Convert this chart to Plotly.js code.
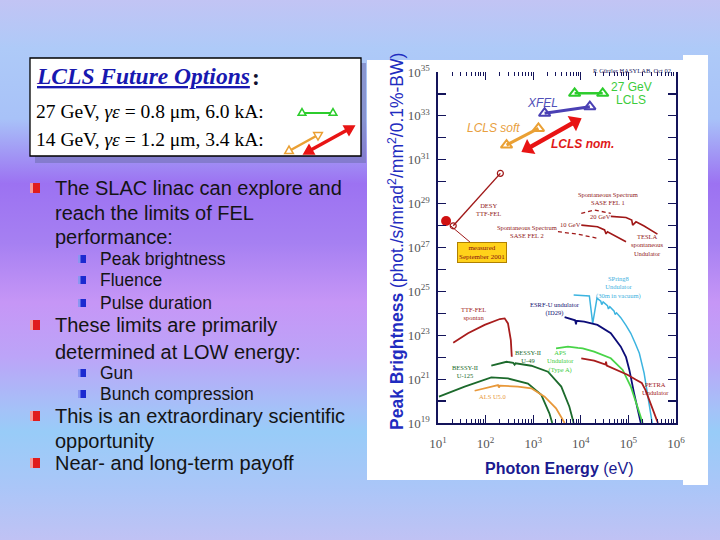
<!DOCTYPE html>
<html><head><meta charset="utf-8">
<script src="https://cdn.plot.ly/plotly-3.0.1.min.js"></script>
<style>
html,body{margin:0;padding:0;}
body{width:720px;height:540px;overflow:hidden;
background:linear-gradient(to bottom,#c2c4f4 0%,#aecaf8 9%,#a8c2f8 22%,#9c72f2 34%,#a680f2 45%,#c696f6 56%,#bca4f8 66%,#a4c2f8 76%,#98ccf8 80%,#aac6f8 90%,#c0c2f4 100%);}
#chart{width:720px;height:540px;}
</style></head><body><div id="chart"></div>
<script>
// ===== Data: log10(photon energy / eV) and log10(peak brightness) =====
const lcls27_logE = [3.87, 4.46];   const lcls27_logB = [34.03, 34.03];
const xfel_logE   = [3.24, 4.19];   const xfel_logB   = [33.12, 33.42];
const lclsSoft_logE = [2.44, 3.11]; const lclsSoft_logB = [31.67, 32.43];
const lclsNom_logE  = [2.89, 3.88]; const lclsNom_logB  = [31.52, 32.73];

const ttfFel_logE = [1.32, 2.31];   const ttfFel_logB = [27.99, 30.38];
const measured_logE = [1.17];       const measured_logB = [28.21];

const sase1Dash_logE = [4.01, 4.28, 4.63];             const sase1Dash_logB = [28.56, 28.71, 28.56];
const sase1_20GeV_logE = [4.63, 4.95, 5.07, 5.09, 5.16, 5.33, 5.61];
const sase1_20GeV_logB = [28.42, 28.37, 28.25, 28.02, 28.17, 27.98, 27.61];
const sase2Dash_logE = [3.52, 3.94, 4.35];             const sase2Dash_logB = [27.72, 27.61, 27.42];
const sase2_10GeV_logE = [4.01, 4.35, 4.50, 4.53, 4.56, 4.77, 4.95];
const sase2_10GeV_logB = [28.02, 27.95, 27.80, 27.62, 27.72, 27.49, 27.26];

const spring8_logE = [3.85, 4.18, 4.25, 4.34, 4.42, 4.44, 4.47, 4.56, 4.58, 4.61, 4.70, 4.72, 4.75, 4.84, 4.95, 5.05, 5.15, 5.23, 5.33, 5.44, 5.50];
const spring8_logB = [24.83, 24.79, 23.54, 24.69, 24.55, 24.40, 24.52, 24.35, 24.20, 24.30, 24.10, 23.95, 24.02, 23.80, 23.45, 23.09, 22.60, 22.18, 21.27, 19.90, 19.00];
const esrf_logE = [3.66, 3.80, 3.88, 3.90, 3.91, 4.07, 4.35, 4.63, 4.84, 4.95, 5.02, 5.12, 5.23, 5.26];
const esrf_logB = [23.83, 23.75, 23.68, 23.50, 23.66, 23.62, 23.47, 23.09, 22.48, 22.00, 21.42, 20.35, 19.29, 19.00];
const aps_logE = [3.48, 3.73, 3.94, 4.04, 4.28, 4.63, 4.88, 5.05, 5.19, 5.30];
const aps_logB = [22.40, 22.48, 22.42, 22.40, 22.25, 21.95, 21.42, 20.66, 19.74, 19.00];
const petra_logE = [4.01, 4.28, 4.52, 4.53, 4.545, 4.77, 4.98, 5.15, 5.28, 5.36, 5.45, 5.55, 5.62];
const petra_logB = [21.95, 21.84, 21.66, 21.80, 21.62, 21.42, 21.20, 20.98, 20.83, 20.50, 20.00, 19.45, 19.00];
const ttfSpontan_logE = [1.32, 1.63, 1.98, 2.30, 2.40, 2.47, 2.53, 2.55];
const ttfSpontan_logB = [22.66, 23.09, 23.47, 23.74, 23.77, 23.54, 22.78, 22.02];
const bessy49_logE = [2.12, 2.30, 2.44, 2.58, 2.61, 2.63, 2.96, 3.31, 3.59, 3.76, 3.85];
const bessy49_logB = [21.62, 21.72, 21.79, 21.74, 21.66, 21.72, 21.61, 21.34, 20.66, 19.74, 19.00];
const bessy125_logE = [1.02, 1.56, 2.12, 2.47, 2.89, 3.17, 3.34, 3.40];
const bessy125_logB = [20.20, 20.66, 21.08, 21.03, 20.80, 20.28, 19.44, 19.00];
const als_logE = [1.77, 2.26, 2.28, 2.30, 2.68, 2.96, 3.24, 3.48, 3.66];
const als_logB = [20.47, 20.73, 20.62, 20.70, 20.66, 20.58, 20.20, 19.67, 19.00];

const xTickExp = [1, 2, 3, 4, 5, 6];
const yTickExp = [19, 20, 21, 22, 23, 24, 25, 26, 27, 28, 29, 30, 31, 32, 33, 34, 35];

const slideMain = ['The SLAC linac can explore and', 'reach the limits of FEL', 'performance:',
  'These limits are primarily', 'determined at LOW energy:',
  'This is an extraordinary scientific', 'opportunity', 'Near- and long-term payoff'];
const slideSub = ['Peak brightness', 'Fluence', 'Pulse duration', 'Gun', 'Bunch compression'];

// ===== Helpers =====
const W = 720, H = 540;
const px = x => x / W, py = y => 1 - y / H;
const pow = a => a.map(v => Math.pow(10, v));
function line(le, lb, color, width, extra) {
  return Object.assign({type: 'scatter', mode: 'lines', x: pow(le), y: pow(lb),
    line: {color: color, width: width}, hoverinfo: 'skip', showlegend: false}, extra || {});
}
const SANS = 'Liberation Sans, Arial, sans-serif';
const SERIF = 'Liberation Serif, Times New Roman, serif';

// ===== Traces =====
const traces = [
  line(spring8_logE, spring8_logB, '#3cb4e0', 1.5),
  line(esrf_logE, esrf_logB, '#0c0c78', 1.8),
  line(aps_logE, aps_logB, '#48d448', 1.8),
  line(petra_logE, petra_logB, '#a81c1c', 1.8),
  line(ttfSpontan_logE, ttfSpontan_logB, '#a81c1c', 1.8),
  line(bessy49_logE, bessy49_logB, '#1c6a2c', 1.8),
  line(bessy125_logE, bessy125_logB, '#1c6a2c', 1.8),
  line(als_logE, als_logB, '#e8983a', 1.8),
  line(sase1Dash_logE, sase1Dash_logB, '#a01818', 1.3, {line: {color: '#a01818', width: 1.3, dash: '4px,3px'}}),
  line(sase1_20GeV_logE, sase1_20GeV_logB, '#a01818', 1.6),
  line(sase2Dash_logE, sase2Dash_logB, '#a01818', 1.3, {line: {color: '#a01818', width: 1.3, dash: '4px,3px'}}),
  line(sase2_10GeV_logE, sase2_10GeV_logB, '#a01818', 1.6),
  line(ttfFel_logE, ttfFel_logB, '#a01818', 1.4, {mode: 'lines+markers',
    marker: {symbol: 'circle-open', size: 6, color: '#a01818', line: {width: 1.2}}}),
  line(measured_logE, measured_logB, '#d01010', 1, {mode: 'markers',
    marker: {symbol: 'circle', size: 10, color: '#d01010'}}),
  line(xfel_logE, xfel_logB, '#4a40b4', 3, {mode: 'lines+markers',
    marker: {symbol: 'triangle-up-open', size: 10, color: '#4a40b4', line: {width: 2}}}),
  line(lclsSoft_logE, lclsSoft_logB, '#eaa034', 3, {mode: 'lines+markers',
    marker: {symbol: 'triangle-up-open', size: 10, color: '#eaa034', line: {width: 2}}}),
  line(lclsNom_logE, lclsNom_logB, '#e81414', 4.5, {mode: 'lines+markers',
    marker: {symbol: 'triangle-up', size: 15, color: '#e81414', angle: [-119, 61]}}),
  line(lcls27_logE, lcls27_logB, '#2ccc2c', 2.5, {mode: 'lines+markers', xaxis: 'x2',
    marker: {symbol: 'triangle-up-open', size: 10, color: '#2ccc2c', line: {width: 2}}})
];

// ===== Layout pieces =====
const minorX = [];
for (let d = 1; d < 6; d++) for (let k = 2; k <= 9; k++) minorX.push(k * Math.pow(10, d));
const tickFont = {family: SERIF, size: 13, color: '#555'};
const AX = '#14145a';

const shapes = [];
function rect(x0, y0, x1, y1, fill, ln, layer) {
  shapes.push({type: 'rect', xref: 'paper', yref: 'paper', x0: px(x0), x1: px(x1), y0: py(y1), y1: py(y0),
    fillcolor: fill, line: ln || {width: 0}, layer: layer || 'above'});
}
function seg(x0, y0, x1, y1, color, width) {
  shapes.push({type: 'line', xref: 'paper', yref: 'paper', x0: px(x0), y0: py(y0), x1: px(x1), y1: py(y1),
    line: {color: color, width: width}});
}
function tri(cx, cy, s, ang, fill, color) {
  const a = ang * Math.PI / 180;
  const pts = [0, 120, 240].map(d => { const t = a + d * Math.PI / 180;
    return [cx + s * Math.sin(t), cy - s * Math.cos(t)]; });
  shapes.push({type: 'path', xref: 'paper', yref: 'paper',
    path: 'M' + pts.map(p => px(p[0]) + ',' + py(p[1])).join(' L') + ' Z',
    fillcolor: fill, line: {color: color, width: 1.5}});
}
// white panels and legend box
rect(367, 60, 683, 480, '#ffffff', null, 'below');
rect(683, 55, 708, 485, '#ffffff', null, 'below');
rect(35, 63, 366, 163, 'rgba(110,110,175,0.55)', null, 'below');
rect(30, 58, 361, 156, '#ffffff', {color: '#000', width: 1.3}, 'below');
// legend icons
seg(302, 113, 333, 113, '#2ccc2c', 2);
tri(302, 113, 4.5, 0, '#ffffff', '#2ccc2c'); tri(333, 113, 4.5, 0, '#ffffff', '#2ccc2c');
seg(289, 151, 318, 135, '#eaa034', 2.5);
tri(289, 151, 5, -120, '#ffffff', '#eaa034'); tri(318, 135, 5, 60, '#ffffff', '#eaa034');
seg(309, 151, 349, 129, '#e81414', 3.5);
tri(309, 151, 6, -120, '#e81414', '#e81414'); tri(349, 129, 6, 60, '#e81414', '#e81414');

// bullets
const mainY = [188, 213, 237, 325, 352, 416, 441, 463];
const mainBullet = [true, false, false, true, false, true, false, true];
const subY = [259, 280, 303, 373, 394];
mainY.forEach((y, i) => { if (mainBullet[i]) {
  rect(30, y - 5, 40, y + 5, '#e01c1c'); rect(30, y - 5, 33, y + 5, '#f49a9a'); } });
subY.forEach(y => { rect(78, y - 4, 86, y + 4, '#1c2ad0'); rect(78, y - 4, 80.5, y + 4, '#8a96f2'); });

const ann = [];
function A(text, x, y, size, color, family, extra) {
  ann.push(Object.assign({text: text, xref: 'paper', yref: 'paper', x: px(x), y: py(y),
    xanchor: 'center', yanchor: 'middle', showarrow: false,
    font: {family: family || SERIF, size: size, color: color}}, extra || {}));
}
// slide text
slideMain.forEach((t, i) => A(t, 53, mainY[i], 20, '#141414', SANS, {xanchor: 'left'}));
slideSub.forEach((t, i) => A(t, 98, subY[i], 17.5, '#141414', SANS, {xanchor: 'left'}));
// legend box text
A('<b><i>LCLS Future Options</i></b>', 34, 76, 23.5, '#1818b0', SERIF,
  {xanchor: 'left', font: {family: SERIF, size: 23.5, color: '#1818b0', lineposition: 'under'}});
A('<b>:</b>', 250, 77, 23.5, '#101030', SERIF, {xanchor: 'left'});
A('27 GeV, <i>γε</i> = 0.8 μm, 6.0 kA:', 34, 112, 19.5, '#000', SERIF, {xanchor: 'left'});
A('14 GeV, <i>γε</i> = 1.2 μm, 3.4 kA:', 34, 139, 19.5, '#000', SERIF, {xanchor: 'left'});
// axis titles
A('<b>Peak Brightness</b> (phot./s/mrad<sup>2</sup>/mm<sup>2</sup>/0.1%-BW)', 396, 242, 17.5, '#1f2cc0', SANS, {textangle: -90});
A('<b>Photon Energy</b> (eV)', 559, 468, 16, '#1a1a90', SANS);
// chart labels
A('P. Gürtler HASYLAB, Oct 02', 632, 70, 6.5, '#202060');
A('27 GeV', 631, 86.5, 12, '#3ccc3c', SANS);
A('LCLS', 631, 100, 12, '#3ccc3c', SANS);
A('<i>XFEL</i>', 542, 103, 12, '#5050b8', SANS);
A('<i>LCLS soft</i>', 493, 128.5, 12, '#e8a040', SANS);
A('<b><i>LCLS nom.</i></b>', 582, 143.5, 12, '#e01818', SANS);
A('DESY<br>TTF-FEL', 488, 209, 6.5, '#902020');
A('Spontaneous Spectrum<br>SASE FEL 1', 608, 198, 6.5, '#902020');
A('Spontaneous Spectrum<br>SASE FEL 2', 527, 231, 6.5, '#902020');
A('20 GeV', 600, 216.5, 6.5, '#902020');
A('10 GeV', 570, 224.5, 6.5, '#902020');
A('TESLA<br>spontaneous<br>Undulator', 647, 245, 6.5, '#902020');
A('SPring8<br>Undulator<br>(30m in vacuum)', 618, 287, 6.5, '#40b0e0');
A('ESRF-U undulator<br>(ID29)', 555, 309, 6.5, '#101070');
A('TTF-FEL<br>spontan', 473, 313, 6.5, '#a02020');
A('BESSY-II<br>U-49', 528, 356, 6.5, '#1a6a2a');
A('BESSY-II<br>U-125', 465, 371.5, 6.5, '#1a6a2a');
A('APS<br>Undulator<br>(Type A)', 560, 361, 6.5, '#40cc40');
A('PETRA<br>Undulator', 655, 388, 6.5, '#a02020');
A('ALS U5.0', 492, 396, 6.5, '#e89838');
// measured box with pointer to the measured point
ann.push({text: 'measured<br>September 2001', xref: 'x', yref: 'y', x: 1.27, y: 27.98,
  ax: 31, ay: 26, showarrow: true, arrowhead: 0, arrowwidth: 1, arrowcolor: '#a01818',
  bgcolor: '#ffd21a', bordercolor: '#b08000', borderwidth: 1, borderpad: 1,
  font: {family: SERIF, size: 7, color: '#8a1010'}});

const layout = {
  width: W, height: H, autosize: false, margin: {l: 0, r: 0, t: 0, b: 0},
  paper_bgcolor: 'rgba(0,0,0,0)', plot_bgcolor: 'rgba(0,0,0,0)', showlegend: false, hovermode: false,
  xaxis: {type: 'log', range: [1, 6], domain: [438 / W, 676 / W], anchor: 'y',
    showline: true, linecolor: AX, linewidth: 1.6, mirror: false, showgrid: false, zeroline: false,
    ticks: 'inside', ticklen: 8, tickwidth: 1.2, tickcolor: AX,
    tickvals: pow(xTickExp), ticktext: xTickExp.map(e => '10<sup>' + e + '</sup>'),
    tickfont: tickFont, ticklabelstandoff: 8,
    minor: {tickvals: minorX, ticks: 'inside', ticklen: 4, tickwidth: 1, tickcolor: AX, showgrid: false}},
  xaxis2: {type: 'log', range: [1, 6], overlaying: 'x', side: 'top', anchor: 'y',
    showline: false, showgrid: false, zeroline: false, showticklabels: false,
    ticks: 'inside', ticklen: 8, tickwidth: 1.2, tickcolor: AX, tickvals: pow(xTickExp),
    minor: {tickvals: minorX, ticks: 'inside', ticklen: 4, tickwidth: 1, tickcolor: AX, showgrid: false}},
  yaxis: {type: 'log', range: [19, 35], domain: [1 - 423 / H, 1 - 72 / H], anchor: 'x',
    showline: true, linecolor: AX, linewidth: 1.6, mirror: 'ticks', showgrid: false, zeroline: false,
    ticks: 'inside', ticklen: 8, tickwidth: 1.2, tickcolor: AX,
    tickvals: pow(yTickExp), ticktext: yTickExp.map(e => (e % 2 === 1) ? '10<sup>' + e + '</sup>' : ''),
    tickfont: tickFont, ticklabelstandoff: 4},
  shapes: shapes,
  annotations: ann
};
Plotly.newPlot('chart', traces, layout, {staticPlot: true, displayModeBar: false});
</script></body></html>
